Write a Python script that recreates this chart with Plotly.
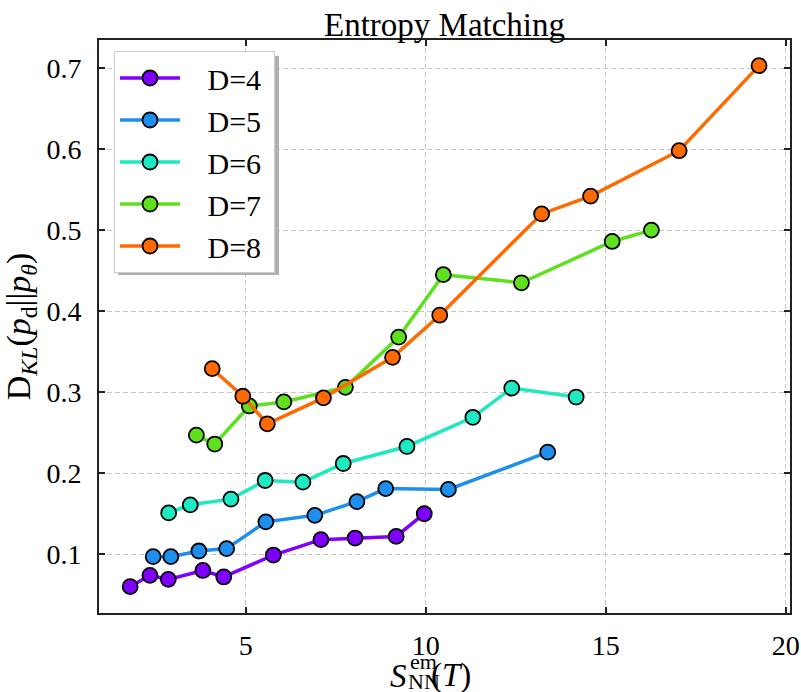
import plotly.graph_objects as go

# ---- data ----
names = ["D=4", "D=5", "D=6", "D=7", "D=8"]
colors = ["#8000ff", "#1e8fee", "#1de9c2", "#5fe01f", "#ff6a00"]

x_d4 = [1.79, 2.34, 2.85, 3.81, 4.39, 5.77, 7.09, 8.04, 9.18, 9.96]
y_d4 = [0.060, 0.074, 0.069, 0.080, 0.072, 0.099, 0.118, 0.120, 0.122, 0.150]

x_d5 = [2.43, 2.92, 3.70, 4.47, 5.56, 6.92, 8.09, 8.89, 10.63, 13.39]
y_d5 = [0.097, 0.097, 0.104, 0.107, 0.140, 0.148, 0.165, 0.181, 0.180, 0.226]

x_d6 = [2.86, 3.46, 4.59, 5.54, 6.59, 7.71, 9.48, 11.31, 12.39, 14.18]
y_d6 = [0.151, 0.161, 0.168, 0.191, 0.189, 0.212, 0.233, 0.269, 0.305, 0.294]

x_d7 = [3.63, 4.14, 5.10, 6.06, 7.77, 9.25, 10.49, 12.66, 15.18, 16.27]
y_d7 = [0.247, 0.236, 0.283, 0.288, 0.306, 0.368, 0.445, 0.435, 0.486, 0.500]

x_d8 = [4.07, 4.92, 5.60, 7.16, 9.08, 10.39, 13.22, 14.58, 17.04, 19.26]
y_d8 = [0.329, 0.295, 0.261, 0.293, 0.343, 0.395, 0.520, 0.542, 0.598, 0.703]

x_ticks = [5, 10, 15, 20]
y_ticks = [0.1, 0.2, 0.3, 0.4, 0.5, 0.6, 0.7]

xs = [x_d4, x_d5, x_d6, x_d7, x_d8]
ys = [y_d4, y_d5, y_d6, y_d7, y_d8]

FONT = "Liberation Serif"
W, H = 801, 692
ML, MR, MT, MB = 99, 11, 40, 79
PW, PH = W - ML - MR, H - MT - MB

fig = go.Figure()
for n, c, x, y in zip(names, colors, xs, ys):
    fig.add_trace(go.Scatter(
        x=x, y=y, name="&nbsp;&nbsp;&nbsp;" + n + "&nbsp;", mode="lines+markers", legendgroup=n,
        line=dict(color=c, width=3.5),
        marker=dict(color=c, size=15, line=dict(color="black", width=1.8)),
    ))

axis_common = dict(
    showline=True, linecolor="#222", linewidth=2, mirror="ticks",
    ticks="inside", ticklen=6, tickwidth=1.5, tickcolor="#222",
    showgrid=True, gridcolor="#c8c8c8", gridwidth=1, griddash="5px,3px",
    zeroline=False, automargin=False,
    tickfont=dict(family=FONT, size=28, color="black"),
)

fig.update_xaxes(range=[0.925, 20.12], tickvals=x_ticks, ticktext=[str(v) for v in x_ticks],
                 ticklabelstandoff=6, **axis_common)
fig.update_yaxes(range=[0.0275, 0.7346], tickvals=y_ticks, ticktext=[f"{v:.1f}" for v in y_ticks],
                 ticklabelstandoff=10,
                 title=dict(text="D<sub><i>KL</i></sub>(<i>p</i><sub>d</sub>||<i>p</i><sub><i>θ</i></sub>)",
                            font=dict(family=FONT, size=34, color="black"), standoff=8),
                 **axis_common)

def px2paper_x(px):
    return (px - ML) / PW

def py2paper_y(py):
    return (H - MB - py) / PH

# x-axis title with stacked super/subscript
ann = []
ann.append(dict(text="<i>S</i>", x=px2paper_x(409), y=py2paper_y(676), xanchor="right", yanchor="middle",
                font=dict(family=FONT, size=33, color="black")))
ann.append(dict(text="em", x=px2paper_x(408), y=py2paper_y(661), xanchor="left", yanchor="middle",
                font=dict(family=FONT, size=22, color="black")))
ann.append(dict(text="NN", x=px2paper_x(406), y=py2paper_y(681), xanchor="left", yanchor="middle",
                font=dict(family=FONT, size=22, color="black")))
ann.append(dict(text="(<i>T</i>)", x=px2paper_x(429), y=py2paper_y(675), xanchor="left", yanchor="middle",
                font=dict(family=FONT, size=33, color="black")))
for a in ann:
    a.update(xref="paper", yref="paper", showarrow=False)

# legend shadow
fig.add_shape(type="rect", xref="paper", yref="paper",
              x0=px2paper_x(118), x1=px2paper_x(279), y0=py2paper_y(275), y1=py2paper_y(56),
              fillcolor="#b0b0b0", line=dict(width=0), layer="above")

fig.update_layout(
    width=W, height=H,
    margin=dict(l=ML, r=MR, t=MT, b=MB),
    paper_bgcolor="white", plot_bgcolor="white",
    font=dict(family=FONT, color="black"),
    title=dict(text="Entropy Matching", x=0.5, xref="paper", xanchor="center",
               y=1, yref="paper", yanchor="bottom", pad=dict(b=4),
               font=dict(family=FONT, size=33, color="black")),
    legend=dict(x=px2paper_x(114), y=py2paper_y(51), xanchor="left", yanchor="top",
                bgcolor="white", bordercolor="#cccccc", borderwidth=1,
                font=dict(family=FONT, size=30, color="black"),
                itemwidth=60, tracegroupgap=0),
    annotations=ann,
    showlegend=True,
)

fig.write_html("out.html", config={"displayModeBar": False},
               post_script="document.body.style.margin='0';")
